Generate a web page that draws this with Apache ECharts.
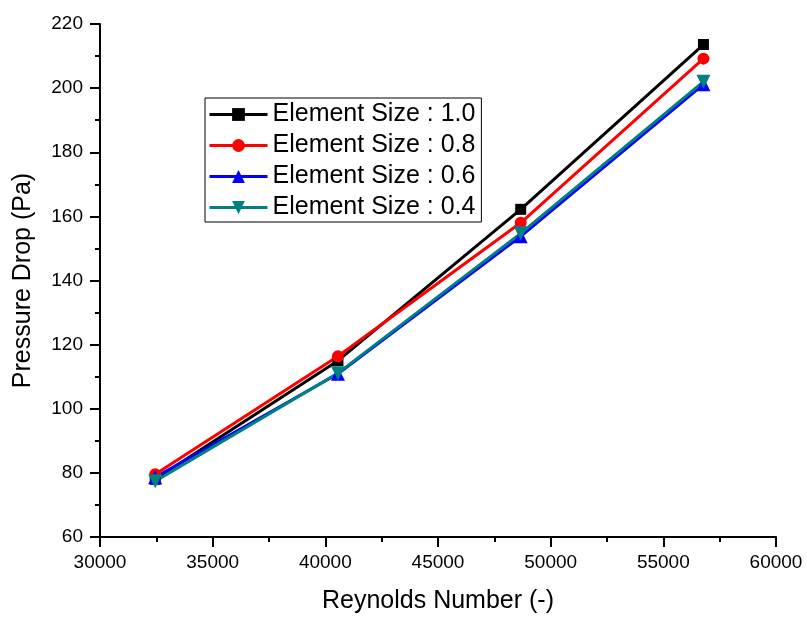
<!DOCTYPE html>
<html>
<head>
<meta charset="utf-8">
<script src="https://cdn.jsdelivr.net/npm/echarts@6/dist/echarts.min.js"></script>
<style>
  html, body { margin: 0; padding: 0; background: #fff; }
  #chart { width: 807px; height: 619px; }
</style>
</head>
<body>
<div id="chart"></div>
<script>
// Reynolds numbers (x) and pressure drop per mesh element size
const reynolds = [32450, 40560, 48670, 56780]
const size10 = [78.0, 115.0, 162.2, 213.6]
const size08 = [79.6, 116.4, 158.0, 209.2]
const size06 = [78.6, 110.9, 153.8, 201.2]
const size04 = [77.4, 111.1, 154.7, 202.0]
const seriesNames = ['Element Size : 1.0', 'Element Size : 0.8', 'Element Size : 0.6', 'Element Size : 0.4']
const xTicks = [30000, 60000, 5000]
const yTicks = [60, 220, 20]

const colors = ['#000000', '#ff0000', '#0000ff', '#008080']
const symbols = ['rect', 'circle', 'triangle', 'path://M0,0 L10,0 L5,9 Z']
const sizes = [11, 12, 14, 14]

function pairs (ys) {
  return reynolds.map((x, i) => [x, ys[i]])
}

const chart = echarts.init(document.getElementById('chart'), null, { renderer: 'canvas' })

const font = 'Liberation Sans, Arial, sans-serif'

const series = [size10, size08, size06, size04].map((ys, i) => ({
  name: seriesNames[i],
  type: 'line',
  data: pairs(ys),
  symbol: symbols[i],
  symbolSize: sizes[i],
  color: colors[i],
  lineStyle: { width: 3, color: colors[i] },
  itemStyle: { color: colors[i] },
  animation: false
}))

const axisCommon = {
  axisLine: { onZero: false, lineStyle: { color: '#000', width: 2 } },
  axisTick: { inside: false, length: 10, lineStyle: { color: '#000', width: 2 } },
  minorTick: { show: true, splitNumber: 2, length: 5, lineStyle: { color: '#000', width: 2 } },
  splitLine: { show: false },
  minorSplitLine: { show: false },
  nameLocation: 'middle',
  nameTextStyle: { fontFamily: font, fontSize: 25, color: '#000' }
}

chart.setOption({
  backgroundColor: '#fff',
  animation: false,
  grid: { left: 100, right: 31, top: 24, bottom: 82 },
  legend: {
    orient: 'vertical',
    left: 205,
    top: 98,
    itemWidth: 58,
    itemHeight: 16,
    itemGap: 6,
    padding: [4, 6, 2, 3],
    borderColor: '#000',
    borderWidth: 1,
    lineStyle: { width: 3 },
    textStyle: { fontFamily: font, fontSize: 25, color: '#000' },
    data: seriesNames
  },
  xAxis: Object.assign({}, axisCommon, {
    type: 'value',
    min: xTicks[0],
    max: xTicks[1],
    interval: xTicks[2],
    name: 'Reynolds Number (-)',
    nameGap: 52,
    axisLabel: { fontFamily: font, fontSize: 19, color: '#000', margin: 16, formatter: v => String(v) }
  }),
  yAxis: Object.assign({}, axisCommon, {
    type: 'value',
    min: yTicks[0],
    max: yTicks[1],
    interval: yTicks[2],
    name: 'Pressure Drop (Pa)',
    nameGap: 64,
    axisLabel: { fontFamily: font, fontSize: 19, color: '#000', margin: 17 }
  }),
  series: series
})
</script>
</body>
</html>
